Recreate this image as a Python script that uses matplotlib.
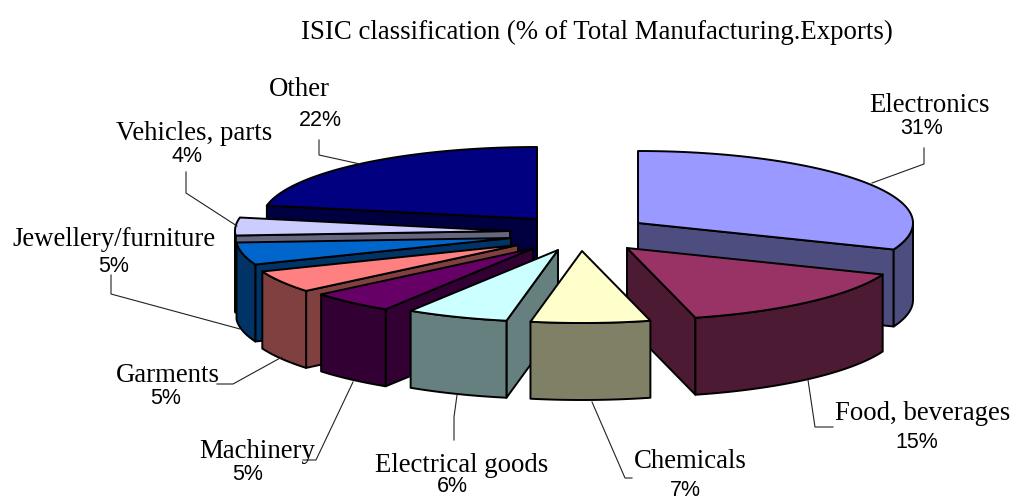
import matplotlib
matplotlib.use('Agg')
import matplotlib.pyplot as plt
from matplotlib.patches import Polygon
import numpy as np

categories = ['Electronics', 'Food, beverages', 'Chemicals', 'Electrical goods', 'Machinery',
              'Garments', 'Jewellery/furniture', 'Vehicles, parts', 'Other']
shares = [31, 15, 7, 6, 5, 5, 5, 4, 22]
title = 'ISIC classification (% of Total Manufacturing.Exports)'

top_colors = ['#9999FF', '#993366', '#FFFFCC', '#CCFFFF', '#660066', '#FF8080', '#0066CC', '#CCCCFF', '#000080']
side_colors = ['#4D4D80', '#4D1A33', '#808066', '#668080', '#330033', '#804040', '#003366', '#666680', '#000040']

# layout in pixels: tip of each exploded slice, ellipse radii, thickness
tip_x = [638, 627, 582, 558, 533, 518, 511, 510, 537]
tip_y = [223, 248, 251, 250, 248.5, 245, 238, 231, 219]
rx, ry, depth = 275, 72, 77

name_pos = [(930, 105), (923, 413), (690, 462), (462, 465), (257, 451), (168, 375), (114, 240), (194, 134), (299, 90)]
pct_pos = [(922, 129), (917, 443), (685, 490), (452, 487), (248, 475), (166, 399), (114, 266), (187, 156), (320, 121)]
leaders = [
    [(872, 183), (924, 164), (924, 148)],
    [(808, 380), (815, 427), (833, 427)],
    [(592, 402), (625, 478), (632, 478)],
    [(457, 395), (454, 417), (454, 440)],
    [(353, 382), (316, 460), (303, 460)],
    [(282, 357), (233, 384), (217, 384)],
    [(240, 329), (111, 294), (111, 275)],
    [(237, 226), (186, 193), (186, 172)],
    [(360, 164), (319, 155), (319, 140)],
]

plt.rcParams['font.family'] = 'Liberation Serif'
fig = plt.figure(figsize=(10.12, 5.0), dpi=100)
ax = fig.add_axes([0, 0, 1, 1])
ax.set_xlim(0, 1012)
ax.set_ylim(500, 0)
ax.axis('off')


def point(x0, y0, deg):
    a = np.radians(deg)
    return x0 + rx * np.sin(a), y0 - ry * np.cos(a)


def face(pts, color, z):
    ax.add_patch(Polygon(pts, closed=True, facecolor=color, edgecolor='black', linewidth=1.4,
                         joinstyle='round', zorder=z))


edges = np.concatenate([[0], np.cumsum(shares)]) * 3.6
mids = (edges[:-1] + edges[1:]) / 2
# back to front
order = sorted(range(len(shares)), key=lambda i: -abs(mids[i] - 180))

for z, i in enumerate(order):
    x0, y0 = tip_x[i], tip_y[i]
    a, b = edges[i], edges[i + 1]
    zz = z * 3 + 1
    mx, my = point(x0, y0, mids[i])
    # flat cut faces
    for deg in (a, b):
        ex, ey = point(x0, y0, deg)
        dx, dy = ex - x0, ey - y0
        if dx * depth * ((mx - x0) * dy - (my - y0) * dx) > 0:
            face([(x0, y0), (ex, ey), (ex, ey + depth), (x0, y0 + depth)], side_colors[i], zz)
    # rim, only the part turned to the viewer
    lo, hi = max(a, 90), min(b, 270)
    if lo < hi:
        arc = [point(x0, y0, d) for d in np.linspace(lo, hi, 60)]
        rim = arc + [(x, y + depth) for x, y in arc[::-1]]
        face(rim, side_colors[i], zz + 1)
    # top
    arc = [point(x0, y0, d) for d in np.linspace(a, b, 80)]
    face([(x0, y0)] + arc, top_colors[i], zz + 2)

for line in leaders:
    xs, ys = zip(*line)
    ax.plot(xs, ys, color='#222222', linewidth=0.8, zorder=0 + 100)

for name, share, p, q in zip(categories, shares, name_pos, pct_pos):
    ax.text(p[0], p[1], name, ha='center', va='center', fontsize=19.3, color='black', zorder=200)
    ax.text(q[0], q[1], str(share) + '%', ha='center', va='center', fontsize=15.5,
            family='Liberation Sans', color='black', zorder=200)

ax.text(597, 32, title, ha='center', va='center', fontsize=19.3, color='black')

fig.savefig('out.png', dpi=100)
